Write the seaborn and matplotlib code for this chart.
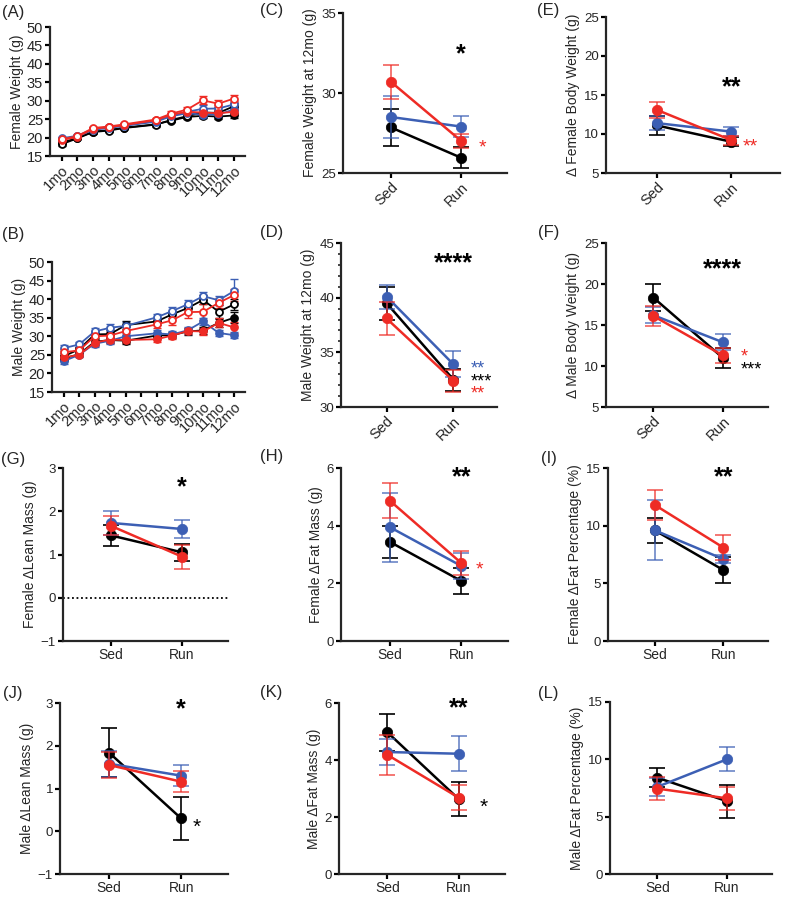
import numpy as np
import pandas as pd
import matplotlib
matplotlib.use('Agg')
import matplotlib.pyplot as plt
from matplotlib.ticker import MultipleLocator
import seaborn as sns

# three groups, same order in every panel
group_names = ['black', 'blue', 'red']
group_colors = ['#000000', '#3c5fb4', '#ee2b25']
conds = ['Sed', 'Run']

month_labels = ['1mo', '2mo', '3mo', '4mo', '5mo', '6mo', '7mo', '8mo', '9mo', '10mo', '11mo', '12mo']
month_pos = [1, 2, 3, 4, 5, 7, 8, 9, 10, 11, 12]   # no 6mo measurement

# (A) female weight by month; sed = open markers, run = filled
fem_sed = [[18.2, 19.8, 21.5, 21.9, 22.6, 23.5, 24.8, 25.8, 26.8, 26.7, 28.5],
           [19.8, 20.5, 22.3, 22.8, 23.3, 24.5, 26.0, 27.0, 27.8, 27.9, 29.0],
           [19.5, 20.4, 22.6, 23.0, 23.6, 24.9, 26.5, 27.6, 30.1, 29.2, 30.6]]
fem_sed_err = [[0.4, 0.3, 0.4, 0.4, 0.4, 0.5, 0.5, 0.6, 0.8, 0.8, 0.9],
               [0.4, 0.3, 0.4, 0.4, 0.4, 0.5, 0.5, 0.7, 1.0, 1.0, 1.0],
               [0.4, 0.3, 0.4, 0.4, 0.4, 0.5, 0.6, 0.7, 1.1, 1.0, 1.0]]
fem_run = [[18.6, 19.9, 21.6, 22.0, 22.7, 23.6, 24.6, 25.6, 25.9, 25.7, 26.0],
           [19.6, 20.3, 22.1, 22.6, 23.2, 24.3, 25.8, 26.6, 26.2, 26.3, 27.6],
           [19.3, 20.2, 22.4, 22.8, 23.4, 24.7, 26.2, 27.0, 26.8, 26.6, 27.0]]
fem_run_err = [[0.4, 0.3, 0.4, 0.4, 0.4, 0.4, 0.5, 0.5, 0.7, 0.7, 0.7],
               [0.4, 0.3, 0.4, 0.4, 0.4, 0.4, 0.5, 0.6, 0.8, 0.8, 0.8],
               [0.4, 0.3, 0.4, 0.4, 0.4, 0.4, 0.5, 0.6, 0.8, 0.8, 0.8]]

# (B) male weight by month
male_sed = [[24.6, 26.5, 30.5, 30.6, 33.0, 34.0, 35.9, 37.6, 39.8, 36.6, 38.6],
            [26.8, 27.8, 31.3, 32.3, 32.8, 35.1, 36.8, 38.6, 40.8, 39.7, 42.2],
            [25.7, 26.2, 30.0, 30.2, 31.4, 33.2, 34.3, 36.5, 36.6, 39.0, 41.1]]
male_sed_err = [[0.8, 0.7, 0.9, 1.0, 1.0, 1.0, 1.0, 1.1, 1.2, 1.8, 1.5],
                [0.8, 0.7, 0.9, 1.0, 1.0, 1.0, 1.0, 1.1, 1.1, 1.2, 3.2],
                [0.8, 0.7, 0.9, 1.0, 1.0, 1.0, 1.2, 1.5, 2.2, 1.3, 1.6]]
male_run = [[24.0, 25.2, 28.5, 29.0, 28.8, 30.2, 30.3, 31.3, 31.6, 33.6, 35.0],
            [23.3, 25.0, 28.0, 28.8, 30.0, 30.8, 30.5, 31.6, 34.0, 30.9, 30.3],
            [24.3, 25.0, 28.3, 29.1, 29.0, 29.2, 30.2, 31.4, 31.3, 33.6, 32.4]]
male_run_err = [[0.7, 0.6, 0.8, 0.8, 0.8, 0.8, 0.8, 0.9, 0.9, 1.0, 1.5],
                [0.7, 0.6, 0.8, 0.8, 0.8, 0.8, 0.8, 0.9, 1.0, 0.8, 0.8],
                [0.7, 0.6, 0.8, 0.8, 0.8, 0.8, 0.8, 0.9, 0.9, 1.2, 1.5]]

# Sed / Run panels: [sed, run] per group (black, blue, red)
C_mean = [[27.85, 25.95], [28.5, 27.9], [30.7, 27.0]]
C_sem = [[1.15, 0.65], [1.3, 0.65], [1.05, 0.45]]
D_mean = [[39.5, 32.5], [40.1, 33.9], [38.1, 32.4]]
D_sem = [[1.5, 1.0], [1.1, 1.2], [1.5, 1.0]]
E_mean = [[11.1, 9.0], [11.4, 10.3], [13.1, 9.2]]
E_sem = [[1.2, 0.6], [0.9, 0.6], [1.0, 0.6]]
F_mean = [[18.35, 11.0], [16.2, 12.9], [16.1, 11.3]]
F_sem = [[1.6, 1.2], [1.0, 1.0], [1.2, 0.9]]
G_mean = [[1.44, 1.05], [1.73, 1.59], [1.66, 0.95]]
G_sem = [[0.25, 0.2], [0.28, 0.2], [0.22, 0.28]]
H_mean = [[3.44, 2.08], [3.95, 2.6], [4.87, 2.7]]
H_sem = [[0.55, 0.45], [1.2, 0.45], [0.62, 0.42]]
I_mean = [[9.6, 6.15], [9.6, 7.1], [11.8, 8.1]]
I_sem = [[1.1, 1.1], [2.6, 0.35], [1.3, 1.1]]
J_mean = [[1.84, 0.3], [1.58, 1.3], [1.55, 1.16]]
J_sem = [[0.57, 0.5], [0.3, 0.25], [0.3, 0.25]]
K_mean = [[4.97, 2.63], [4.28, 4.22], [4.18, 2.68]]
K_sem = [[0.65, 0.6], [0.45, 0.62], [0.7, 0.45]]
L_mean = [[8.4, 6.35], [7.6, 10.0], [7.45, 6.6]]
L_sem = [[0.85, 1.45], [0.8, 1.05], [1.0, 1.0]]

sns.set_style('ticks')
plt.rcParams['font.family'] = ['Liberation Sans', 'DejaVu Sans']
plt.rcParams['axes.linewidth'] = 1.6

W, H = 787, 897
fig = plt.figure(figsize=(W / 100, H / 100), dpi=100)


def px_axes(l, r, t, b):
    ax = fig.add_axes([l / W, 1 - b / H, (r - l) / W, (b - t) / H])
    sns.despine(ax=ax)
    ax.tick_params(width=1.6, length=3.5, color='black', labelsize=9.5, pad=1.5)
    return ax


def star(ax, s, x, y, color='black', size=18, ha='center', bold=True):
    ax.annotate(s, (x, y), xytext=(0, -0.6 * size), textcoords='offset points',
                ha=ha, va='baseline', fontsize=size, color=color,
                fontweight='bold' if bold else 'normal', annotation_clip=False)


def month_panel(ax, sed, sed_err, run, run_err, ylabel):
    for i, color in enumerate(group_colors):
        for vals, errs, face in [(run, run_err, color), (sed, sed_err, 'white')]:
            df = pd.DataFrame({'month': month_pos, 'weight': vals[i]})
            sns.lineplot(data=df, x='month', y='weight', color=color, marker='o',
                         markersize=5, markerfacecolor=face, markeredgecolor=color,
                         markeredgewidth=1.3, linewidth=1.3, ax=ax, zorder=3)
            ax.errorbar(month_pos, vals[i], yerr=errs[i], fmt='none', ecolor=color,
                        elinewidth=1.0, capsize=3, capthick=1.0, zorder=2)
    ax.set_xlim(0.25, 12.7)
    ax.set_ylim(15, 50)
    ax.set_yticks(range(15, 51, 5))
    ax.set_xticks(range(1, 13))
    ax.set_xticklabels(month_labels, rotation=45, ha='right', rotation_mode='anchor')
    ax.tick_params(labelsize=10.5)
    ax.set_xlabel('')
    ax.set_ylabel(ylabel, fontsize=10, labelpad=2)


def pair_panel(ax, means, sems, ylim, yticks, ylabel, rotate=False):
    for i, color in enumerate(group_colors):
        df = pd.DataFrame({'cond': [0, 1], 'val': means[i]})
        sns.lineplot(data=df, x='cond', y='val', color=color, marker='o',
                     markersize=7.5, markeredgecolor=color, markeredgewidth=0.5,
                     linewidth=1.8, ax=ax, zorder=3 + i)
        ax.errorbar([0, 1], means[i], yerr=sems[i], fmt='none', ecolor=color,
                    elinewidth=1.2, capsize=6, capthick=1.2,
                    alpha=1.0 if i == 0 else 0.75, zorder=2 + i)
    ax.set_xlim(-0.68, 1.65)
    ax.set_ylim(*ylim)
    ax.set_yticks(yticks)
    ax.set_xticks([0, 1])
    if rotate:
        ax.set_xticklabels(conds, rotation=45, ha='right', rotation_mode='anchor', fontsize=10.5)
    else:
        ax.set_xticklabels(conds, fontsize=10)
    ax.set_xlabel('')
    ax.set_ylabel(ylabel, fontsize=10, labelpad=3)


# (A) / (B)
axA = px_axes(50, 245, 27, 156)
month_panel(axA, fem_sed, fem_sed_err, fem_run, fem_run_err, 'Female Weight (g)')
axB = px_axes(52, 245, 262, 392)
month_panel(axB, male_sed, male_sed_err, male_run, male_run_err, 'Male Weight (g)')

# (C)
axC = px_axes(343, 507, 13, 173)
pair_panel(axC, C_mean, C_sem, (25, 35), [25, 30, 35], 'Female Weight at 12mo (g)', rotate=True)
star(axC, '*', 1, 32.9)
star(axC, '*', 1.3, 27.0, color=group_colors[2], size=14, bold=False)

# (E)
axE = px_axes(606, 780, 17, 173)
pair_panel(axE, E_mean, E_sem, (5, 25), [5, 10, 15, 20, 25], '\u0394 Female Body Weight (g)', rotate=True)
star(axE, '**', 1, 17.0)
star(axE, '**', 1.15, 9.2, color=group_colors[2], size=14, ha='left', bold=False)

# (D)
axD = px_axes(341, 497, 243, 407)
pair_panel(axD, D_mean, D_sem, (30, 45), [30, 35, 40, 45], 'Male Weight at 12mo (g)', rotate=True)
axD.yaxis.set_minor_locator(MultipleLocator(1))
axD.tick_params(axis='y', which='minor', length=2.5, width=1.2)
star(axD, '**', 1.25, 34.1, color=group_colors[1], size=13, ha='left', bold=False)
star(axD, '***', 1.25, 32.9, color=group_colors[0], size=13, ha='left', bold=False)
star(axD, '**', 1.25, 31.8, color=group_colors[2], size=13, ha='left', bold=False)
star(axD, '****', 1, 43.9)

# (F)
axF = px_axes(606, 768, 243, 407)
pair_panel(axF, F_mean, F_sem, (5, 25), [5, 10, 15, 20, 25], '\u0394 Male Body Weight (g)', rotate=True)
star(axF, '****', 1, 22.8)
star(axF, '*', 1.25, 11.9, color=group_colors[2], size=13, ha='left', bold=False)
star(axF, '***', 1.25, 10.3, color=group_colors[0], size=13, ha='left', bold=False)

# (G)
axG = px_axes(63, 228, 468, 641)
axG.axhline(0, color='black', linestyle=(0, (1, 1.5)), linewidth=1.3, zorder=1)
pair_panel(axG, G_mean, G_sem, (-1, 3), [-1, 0, 1, 2, 3], 'Female \u0394Lean Mass (g)')
star(axG, '*', 1, 2.75)

# (H)
axH = px_axes(341, 508, 468, 641)
pair_panel(axH, H_mean, H_sem, (0, 6), [0, 2, 4, 6], 'Female \u0394Fat Mass (g)')
star(axH, '**', 1, 5.94)
star(axH, '*', 1.25, 2.7, color=group_colors[2], size=14, bold=False)

# (I)
axI = px_axes(608, 768, 468, 641)
pair_panel(axI, I_mean, I_sem, (0, 15), [0, 5, 10, 15], 'Female \u0394Fat Percentage (%)')
star(axI, '**', 1, 14.9)

# (J)
axJ = px_axes(60, 228, 703, 874)
pair_panel(axJ, J_mean, J_sem, (-1, 3), [-1, 0, 1, 2, 3], 'Male \u0394Lean Mass (g)')
star(axJ, '*', 1, 3.05)
star(axJ, '*', 1.22, 0.25, size=15, bold=False)

# (K)
axK = px_axes(339, 505, 703, 874)
pair_panel(axK, K_mean, K_sem, (0, 6), [0, 2, 4, 6], 'Male \u0394Fat Mass (g)')
star(axK, '**', 1, 6.1)
star(axK, '*', 1.35, 2.6, size=15, bold=False)

# (L)
axL = px_axes(610, 772, 702, 874)
pair_panel(axL, L_mean, L_sem, (0, 15), [0, 5, 10, 15], 'Male \u0394Fat Percentage (%)')

# panel letters
letters = [('(A)', 2, 12), ('(B)', 2, 234), ('(C)', 260, 10), ('(D)', 260, 233),
           ('(E)', 537, 10), ('(F)', 538, 233), ('(G)', 1, 459), ('(H)', 260, 457),
           ('(I)', 541, 458), ('(J)', 3, 693), ('(K)', 260, 692), ('(L)', 538, 693)]
for s, x, y in letters:
    fig.text(x / W, 1 - y / H, s, fontsize=12, ha='left', va='center')

fig.savefig('out.png', dpi=100)
